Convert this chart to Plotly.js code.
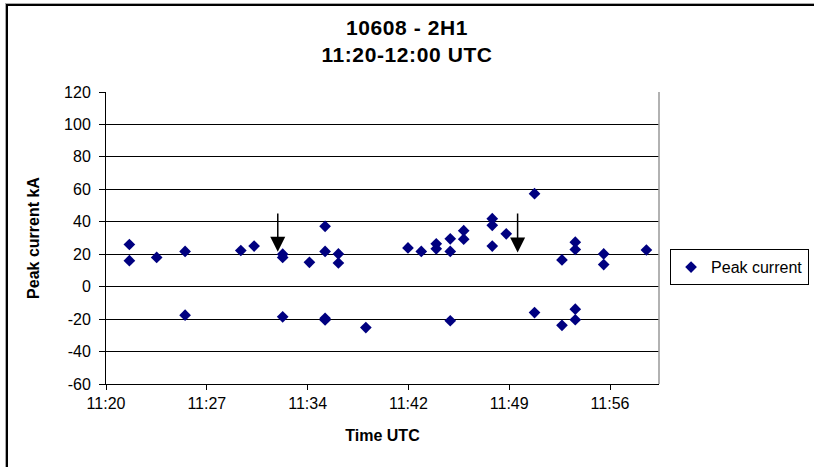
<!DOCTYPE html>
<html>
<head>
<meta charset="utf-8">
<script src="https://cdn.plot.ly/plotly-3.0.1.min.js"></script>
<style>
  html, body { margin: 0; padding: 0; background: #fff; overflow: hidden; }
  #wrap { position: relative; width: 814px; height: 467px; overflow: hidden; }
  #chart { position: absolute; left: 0; top: 0; width: 814px; height: 467px; }
  #frame { position: absolute; left: 6px; top: 4px; width: 1200px; height: 800px;
           border-left: 2px solid #000; border-top: 2px solid #000; pointer-events: none;
           box-shadow: -1px -1px 0 #aaa; }
  #chart .gtitle { letter-spacing: 0.6px; }
</style>
</head>
<body>
<div id="wrap">
  <div id="chart"></div>
  <div id="frame"></div>
</div>
<script>
// Time of each strike in minutes after 11:20 UTC
const timeMin = [
  1.67, 1.67, 3.62, 5.65, 5.65, 9.63, 10.58,
  12.62, 12.62, 12.62, 14.53,
  15.65, 15.65, 15.65, 15.65, 16.6, 16.6, 18.56,
  21.57, 22.52, 23.59, 23.59, 24.59, 24.59, 24.59,
  25.55, 25.55, 27.59, 27.59, 27.59, 28.59,
  30.61, 30.61, 32.57, 32.57,
  33.52, 33.52, 33.52, 33.52, 35.55, 35.55, 38.6
];
// Peak current, kA
const peakCurrent = [
  26, 16, 18, 21.7, -17.6, 22.3, 25,
  20, 18, -18.6, 15,
  37.2, 21.7, -19.5, -20.5, 20.2, 14.6, -25.2,
  23.9, 21.7, 26.4, 23.3, 29.5, 21.7, -21,
  34.5, 29.3, 41.9, 37.8, 25, 32.6,
  57.3, -16, 16.5, -23.8,
  27.4, 22.9, -13.9, -20.4, 20.2, 13.6, 22.6
];
// X axis ticks (every 7.2 min, as Excel's 0.005-day unit)
const tickPos = [0, 7.2, 14.4, 21.6, 28.8, 36];
const tickLabels = ['11:20', '11:27', '11:34', '11:42', '11:49', '11:56'];
// Y axis ticks (hyphen minus, as in the original)
const yTickVals = [-60, -40, -20, 0, 20, 40, 60, 80, 100, 120];
const yTickLabels = ['-60', '-40', '-20', '0', '20', '40', '60', '80', '100', '120'];
// Arrows marking events
const arrowTime = [12.27, 29.4];
const arrowFrom = [46, 46];
const arrowTo = [21.5, 21];

const trace = {
  type: 'scatter',
  mode: 'markers',
  name: 'Peak current',
  x: timeMin,
  y: peakCurrent,
  marker: { symbol: 'diamond', size: 9, color: '#000080' },
  cliponaxis: false
};

const annotations = arrowTime.map((t, i) => ({
  x: t, y: arrowTo[i], xref: 'x', yref: 'y',
  ax: t, ay: arrowFrom[i], axref: 'x', ayref: 'y',
  showarrow: true, arrowhead: 2, arrowsize: 2, arrowwidth: 1.5,
  arrowcolor: '#000', text: ''
}));

const font = 'Arial, "Liberation Sans", sans-serif';

const layout = {
  width: 814, height: 467,
  margin: { l: 106, r: 155, t: 92, b: 83, autoexpand: false },
  paper_bgcolor: '#fff', plot_bgcolor: '#fff',
  font: { family: font, size: 16, color: '#000' },
  title: {
    text: '<b>10608 - 2H1</b><br><b>11:20-12:00 UTC</b>',
    x: 0.5, xref: 'container', xanchor: 'center',
    y: 0.926, yref: 'container', yanchor: 'middle',
    font: { family: font, size: 21, color: '#000' }
  },
  xaxis: {
    range: [0, 39.5],
    tickvals: tickPos, ticktext: tickLabels,
    ticks: 'outside', ticklen: 5, tickcolor: '#000',
    showgrid: false, zeroline: false,
    showline: true, linecolor: '#000', linewidth: 1,
    tickfont: { family: font, size: 16 },
    title: { text: '<b>Time UTC</b>', font: { family: font, size: 16 }, standoff: 18 }
  },
  yaxis: {
    range: [-60, 120],
    tickvals: yTickVals, ticktext: yTickLabels,
    ticks: 'outside', ticklen: 6, tickcolor: '#000',
    ticklabelstandoff: 5,
    showgrid: true, gridcolor: '#000', gridwidth: 1,
    zeroline: false,
    showline: true, linecolor: '#000', linewidth: 1,
    tickfont: { family: font, size: 16 },
    title: { text: '<b>Peak current kA</b>', font: { family: font, size: 16 }, standoff: 20 }
  },
  shapes: [
    { type: 'line', xref: 'paper', yref: 'paper', x0: 1, x1: 1, y0: 0, y1: 1,
      line: { color: '#999', width: 1.5 } }
  ],
  showlegend: true,
  legend: {
    x: 1.02, xanchor: 'left', y: 0.40, yanchor: 'middle',
    bordercolor: '#000', borderwidth: 1, bgcolor: '#fff',
    font: { family: font, size: 16 },
    itemwidth: 30
  },
  annotations: annotations
};

Plotly.newPlot('chart', [trace], layout, { staticPlot: true, displayModeBar: false });
</script>
</body>
</html>
